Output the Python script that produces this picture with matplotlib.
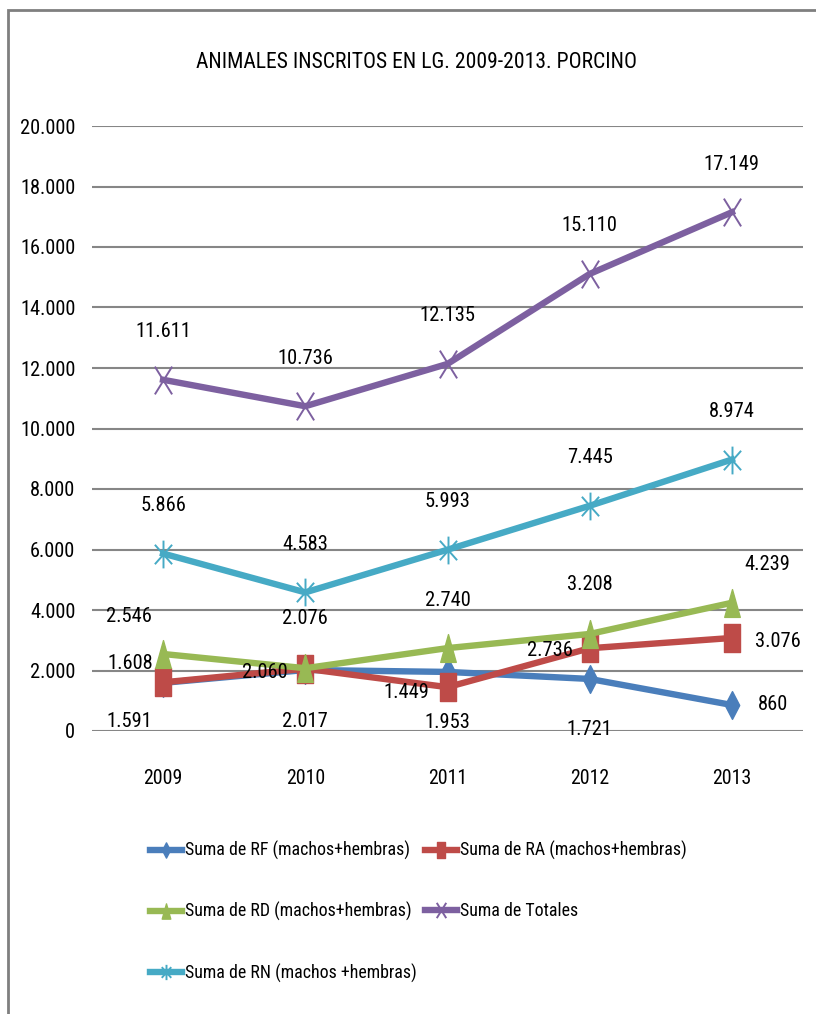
import numpy as np
import matplotlib
matplotlib.use("Agg")
import matplotlib.pyplot as plt
from matplotlib.path import Path
from matplotlib.patches import Rectangle

plt.rcParams['font.family'] = ['Liberation Sans Narrow', 'Roboto Condensed', 'DejaVu Sans']
plt.rcParams['font.stretch'] = 'condensed'

years = ["2009", "2010", "2011", "2012", "2013"]
rf = [1591, 2017, 1953, 1721, 860]
ra = [1608, 2060, 1449, 2736, 3076]
rd = [2546, 2076, 2740, 3208, 4239]
totales = [11611, 10736, 12135, 15110, 17149]
rn = [5866, 4583, 5993, 7445, 8974]

names = ["Suma de RF (machos+hembras)", "Suma de RA (machos+hembras)",
         "Suma de RD (machos+hembras)", "Suma de Totales",
         "Suma de RN (machos +hembras)"]
colors = ["#4A7EBB", "#BE4B48", "#98B954", "#7D60A0", "#46AAC5"]
title = "ANIMALES INSCRITOS EN LG. 2009-2013. PORCINO"


def fmt(v):
    return f"{v:,}".replace(",", ".")


# tall, narrow marker shapes
diamond = Path([(0, -0.5), (0.26, 0), (0, 0.5), (-0.26, 0), (0, -0.5)],
               [Path.MOVETO, Path.LINETO, Path.LINETO, Path.LINETO, Path.CLOSEPOLY])
square = Path([(-0.28, -0.5), (0.28, -0.5), (0.28, 0.5), (-0.28, 0.5), (-0.28, -0.5)],
              [Path.MOVETO, Path.LINETO, Path.LINETO, Path.LINETO, Path.CLOSEPOLY])
triangle = Path([(-0.28, -0.5), (0.28, -0.5), (0, 0.5), (-0.28, -0.5)],
                [Path.MOVETO, Path.LINETO, Path.LINETO, Path.CLOSEPOLY])
cross = Path([(-0.31, -0.5), (0.31, 0.5), (-0.31, 0.5), (0.31, -0.5)],
             [Path.MOVETO, Path.LINETO, Path.MOVETO, Path.LINETO])
star = Path([(0, -0.5), (0, 0.5), (-0.31, -0.35), (0.31, 0.35), (-0.31, 0.35), (0.31, -0.35)],
            [Path.MOVETO, Path.LINETO, Path.MOVETO, Path.LINETO, Path.MOVETO, Path.LINETO])

# label offsets in pixels (dx, dy) for each point
offs_rf = [(-34, -39), (0, -52), (0, -51), (0, -51), (41, 0)]
offs_ra = [(-33, 19), (-40, -4), (-41, -5), (-40, -2), (46, -4)]
offs_rd = [(-34, 37), (0, 50), (0, 48), (0, 49), (35, 38)]
offs_tot = [(0, 48)] * 5
offs_rn = [(0, 48)] * 5

fig = plt.figure(figsize=(8.16, 10.14), dpi=100)
renderer = fig.canvas.get_renderer()


def fit_size(s, width_px, base=12.0):
    # font size giving the string the wanted width in pixels
    t = fig.text(0, 0, s, fontsize=base)
    w = t.get_window_extent(renderer).width
    t.remove()
    return base * width_px / w


fs_num = fit_size("5.866", 46)
fs_tick = fit_size("20.000", 55)
fs_year = fit_size("2009", 39)
fs_title = fit_size(title, 440)
fs_leg = fit_size(names[0], 224)
leg_px = fs_leg * 100 / 72

ax = fig.add_axes([92 / 816, 1 - 731 / 1014, 711 / 816, 605 / 1014])

x = np.arange(len(years))
series = [
    (rf, diamond, True, offs_rf),
    (ra, square, True, offs_ra),
    (rd, triangle, True, offs_rd),
    (totales, cross, False, offs_tot),
    (rn, star, False, offs_rn),
]

handles = []
for (vals, mk, filled, offs), name, c in zip(series, names, colors):
    if filled:
        ln, = ax.plot(x, vals, color=c, lw=4.6, marker=mk, markersize=20,
                      markerfacecolor=c, markeredgecolor=c, label=name,
                      solid_joinstyle="round", clip_on=False)
    else:
        ln, = ax.plot(x, vals, color=c, lw=4.6, marker=mk, markersize=20,
                      markerfacecolor="none", markeredgecolor=c, markeredgewidth=1.4,
                      label=name, solid_joinstyle="round", clip_on=False)
    handles.append(ln)
    for xi, v, (dx, dy) in zip(x, vals, offs):
        ax.annotate(fmt(v), (xi, v), xytext=(dx, dy),
                    textcoords="offset pixels", ha="center", va="center",
                    fontsize=fs_num, color="black")

ax.set_xlim(-0.5, 4.5)
ax.set_ylim(0, 20000)
ticks = list(range(0, 20001, 2000))
ax.set_yticks(ticks)
ax.set_yticklabels([fmt(t) for t in ticks], fontsize=fs_tick)
ax.set_xticks(x)
ax.set_xticklabels(years, fontsize=fs_year)
ax.tick_params(axis="both", length=0)
ax.tick_params(axis="y", pad=12)
ax.tick_params(axis="x", pad=27)
ax.yaxis.grid(True, color="#868686", lw=1.5)
ax.set_axisbelow(True)
for s in ax.spines.values():
    s.set_visible(False)

fig.text(417 / 816, 1 - 62 / 1014, title, ha="center", va="center", fontsize=fs_title)

order = [0, 2, 4, 1, 3]
fig.legend([handles[i] for i in order], [names[i] for i in order], ncol=2,
           loc="upper left", bbox_to_anchor=(150 / 816, 1 - 841 / 1014),
           frameon=False, fontsize=fs_leg, markerscale=0.55,
           handlelength=32 / leg_px, handletextpad=3 / leg_px,
           columnspacing=8 / leg_px, labelspacing=2.35, borderpad=0,
           borderaxespad=0)

fig.add_artist(Rectangle((8 / 816, -0.1), 1.2, 1.1 - 10 / 1014, transform=fig.transFigure,
                         fill=False, edgecolor="#7F7F7F", lw=2))

fig.savefig("out.png", dpi=100)
